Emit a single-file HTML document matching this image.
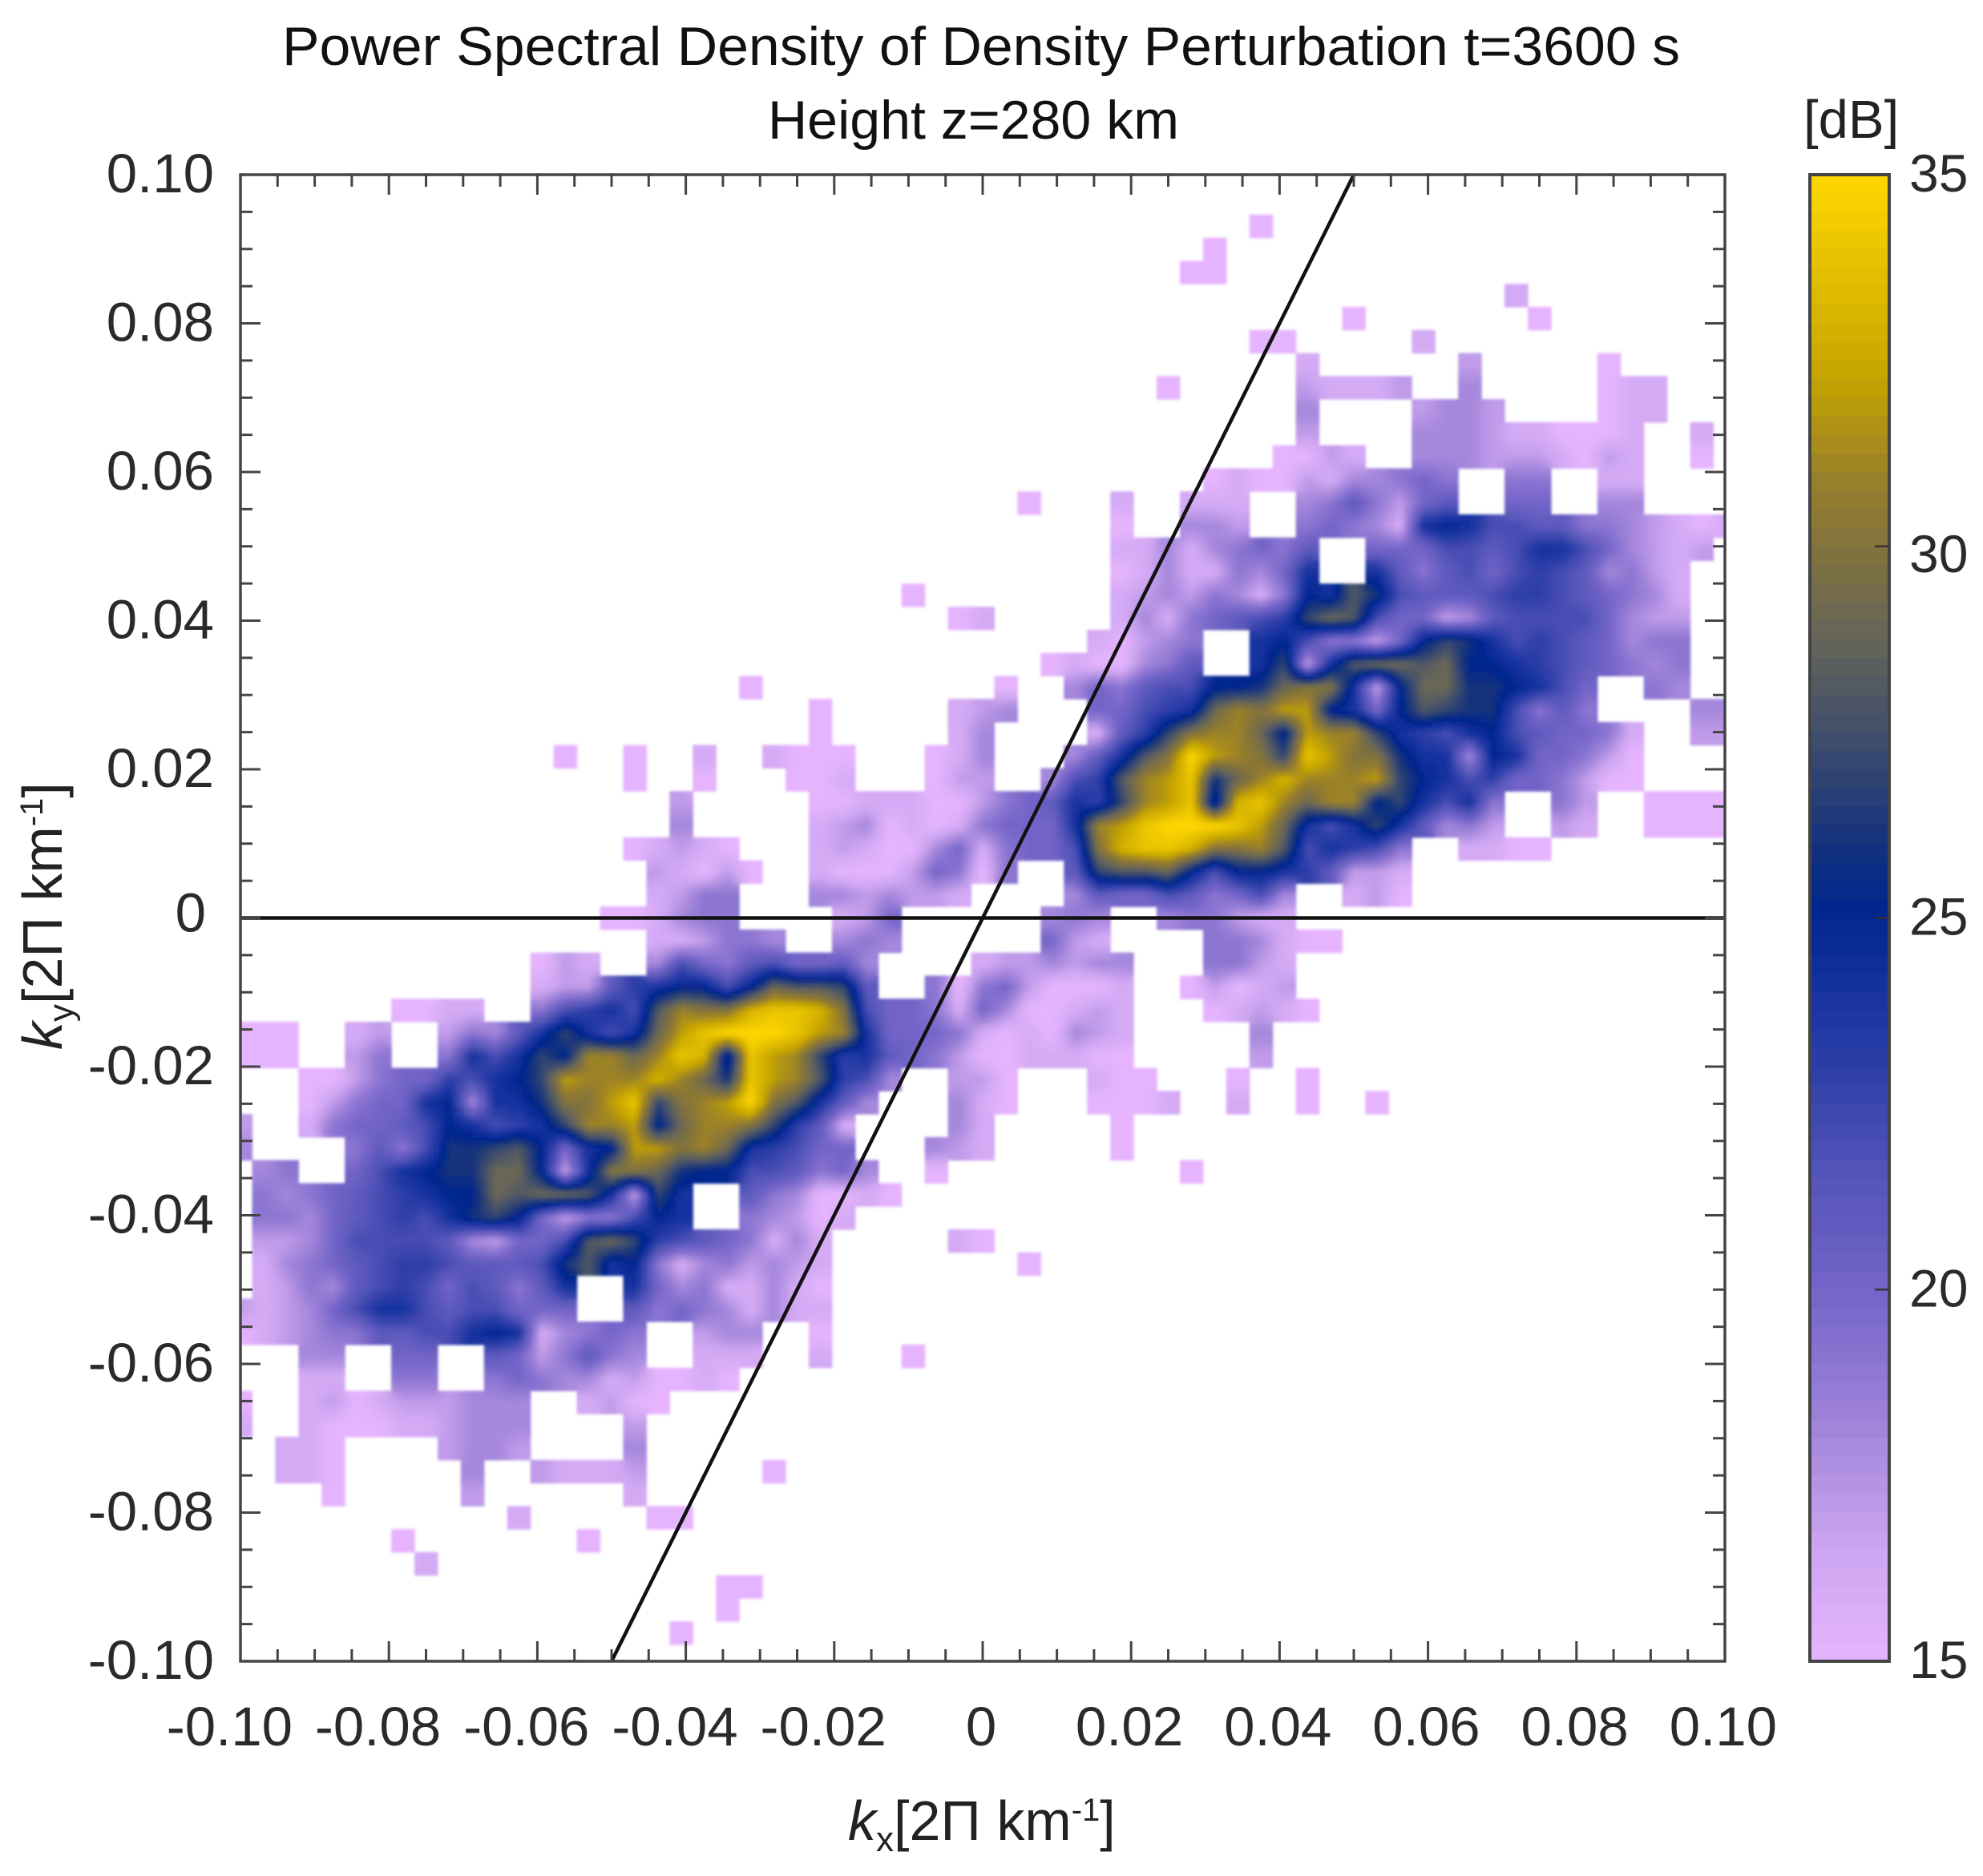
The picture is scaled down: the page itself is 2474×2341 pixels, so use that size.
<!DOCTYPE html>
<html lang="en">
<head>
<meta charset="utf-8">
<title>Power Spectral Density of Density Perturbation</title>
<style>
html,body{margin:0;padding:0;background:#fff}
svg{display:block;font-family:"Liberation Sans",sans-serif}
</style>
</head>
<body>
<svg id="chart" xmlns="http://www.w3.org/2000/svg" width="2474" height="2341" viewBox="0 0 2474 2341">
  <defs>
    <clipPath id="plot-clip"><rect x="300" y="218" width="1852" height="1855"/></clipPath>
    <filter id="soften" filterUnits="userSpaceOnUse" x="280" y="200" width="1900" height="1900">
      <feGaussianBlur stdDeviation="1.6"/>
    </filter>
  </defs>
  <rect x="0" y="0" width="2474" height="2341" fill="#fff"/>
  <text x="352" y="81" font-size="68" fill="#111" textLength="1744" lengthAdjust="spacingAndGlyphs">Power Spectral Density of Density Perturbation t=3600 s</text>
  <text x="958" y="173" font-size="68" fill="#111" textLength="513" lengthAdjust="spacingAndGlyphs">Height z=280 km</text>
  <g id="heatmap-clip" clip-path="url(#plot-clip)">
    <g id="heatmap" filter="url(#soften)"></g>
    <g id="guides"></g>
  </g>
  <g id="axes"></g>
  <g id="colorbar"></g>
  <text x="1058" y="2296" font-size="70" fill="#222"><tspan font-style="italic">k</tspan><tspan dy="14" font-size="44">x</tspan><tspan dy="-14">[2Π km</tspan><tspan dy="-24" font-size="40">-1</tspan><tspan dy="24">]</tspan></text>
  <text transform="translate(77,1310) rotate(-90)" font-size="70" fill="#222"><tspan font-style="italic">k</tspan><tspan dy="14" font-size="44">y</tspan><tspan dy="-14">[2Π km</tspan><tspan dy="-24" font-size="40">-1</tspan><tspan dy="24">]</tspan></text>
  <text x="2250" y="172" font-size="67" fill="#222">[dB]</text>
</svg>
<script>
// Axis tick values and labels
const xTickValues = [-0.10,-0.08,-0.06,-0.04,-0.02,0,0.02,0.04,0.06,0.08,0.10];
const xTickLabels = ['-0.10','-0.08','-0.06','-0.04','-0.02','0','0.02','0.04','0.06','0.08','0.10'];
const yTickValues = [0.10,0.08,0.06,0.04,0.02,0,-0.02,-0.04,-0.06,-0.08,-0.10];
const yTickLabels = ['0.10','0.08','0.06','0.04','0.02','0','-0.02','-0.04','-0.06','-0.08','-0.10'];
const colorbarTickValues = [35,30,25,20,15];
const colorbarTickLabels = ['35','30','25','20','15'];

// Guide lines (wavenumbers)
const zeroLineKx = [-0.10,0.10];
const zeroLineKy = [0,0];
const slopeLineKx = [-0.05,0.05];
const slopeLineKy = [-0.10,0.10];

// Colour scale: dB level and its colour
const colorLevels = [15,16.5,18,20,21.5,23,24,25.1,26,27.3,28.7,30,30.8,32.3,35];
const colorReds   = [230,205,165,115,85,45,22,0,20,60,100,130,150,198,255];
const colorGreens = [180,165,135,100,85,62,50,38,50,75,100,115,125,165,215];
const colorBlues  = [255,240,220,200,185,168,160,142,125,110,90,60,45,0,0];

// PSD in dB, one entry per grid row from the top (rows 1..32).
// Each segment is [first column index relative to kx=0, value, value, ...]; gaps are below 15 dB.
// The spectrum of a real field is point-symmetric, so the lower half-plane is this same table
// reflected through the spectrum centre.
const psdHalfPlaneRows = [
 [],
 [[12,15]],
 [[10,15]],
 [[9,15,15]],
 [[23,16]],
 [[16,15],[24,15]],
 [[12,15,15],[19,16]],
 [[14,16],[21,17],[27,15]],
 [[8,15],[14,17,16,16,16,17],[21,18],[27,15,16,16]],
 [[14,18],[19,17,18,18,17],[27,15,16,16]],
 [[14,17],[19,18,18,18,17,16,16,15,15,15,16],[31,16]],
 [[13,15,15,17,16],[19,18,18,18,17,17,17,16,15,17,16],[31,15]],
 [[10,15,16,15,15,17,16,18,18,19,20,19],[23,19,19],[27,16,16]],
 [[2,15],[6,16],[9,16,16,16],[14,18,19,21,19,17,20,21],[23,20,20],[27,18,18]],
 [[6,15],[9,18,18,17],[14,19,20,19,18,16,24,25,24,22,22,21,21,19,19,18,17,16,15,16]],
 [[6,16,16,18,16,18,19,20,19,21],[17,20,20,20,22,22,21,22,24,24,22,20,18,17,16,17]],
 [[6,15,16,18,16,16,19,18,20,24],[17,24,21,19,21,22,20,22,23,22,21,18,19,17,16]],
 [[-3,15],[6,16,17,18,17,19,18,16,19,25,24,28,26,22,21,21,21,22,23,23,22,21,20,19,18,16]],
 [[-1,15,16],[6,16,18,16,19,20,21,22,23,27,29,28,22,20,20,17,18,21,22,22,22,22,20,18,17,17]],
 [[5,16,15,17,18,19],[12,24,25,22,19,19,17,20,25,27,26,24,22,23,22,21,20,18,19,19]],
 [[3,15,16,15,15,18,19,21],[12,24,27,17,24,28,29,29,28,29,25,25,24,23,22,21,20,19,18,19]],
 [[-10,15],[1,15],[4,18,20,19,21,22,22,25,25,26,29,30,30,24,17,25,29,29,26,26,25,24,22,20],[29,19,18]],
 [[-7,15],[-1,16,17,18],[5,20,20,22,23,24,29,31,30,32,32,25,24,20,25,28,27,26,26,22,19,21,19],[31,18,18]],
 [[-7,15],[-1,16,18],[5,16,21,23,27,30,31,31,29,25,32,31,31,27,24,23,22,24,25,22,21,20,20,19,16],[31,17,17]],
 [[-18,15],[-15,15],[-12,16],[-9,16,15,15,15],[-2,15,16,18],[4,18,21,24,28,30,35,32,31,30,27,34,32,30,30,26,24,24,18,25,24,20,20,19,17,15]],
 [[-15,15],[-12,15],[-8,15,15,16],[-2,15,17,17],[3,18,22,23,28,31,32,34,26,29,31,33,31,31,31,32,27,25,24,22,23,20,20,19,17,15,15]],
 [[-13,17],[-7,15,15,16,16,16,15,15,17,19,20,21,24,23,27,31,32,34,24,33,34,31,29,31,31,25,27,24,22,24,19],[25,19,17],[29,15,15,15,15]],
 [[-13,18],[-7,16,17,18,15,16,15,16,19,20,20,20,24,31,32,34,35,35,35,34,32,29,24,22,24,27,24,21,18,19,17],[25,17,16],[29,15,15,15,15]],
 [[-15,15,16,17,16,15],[-7,16,17,16,15,15,18,20,16,19,20,20,22,30,33,34,34,33,30,30,31,28,22,24,23,22,19],[21,16,16,15,15]],
 [[-14,17,16,15,17,15],[-7,16,15,15,15,17,20,19,15,19],[4,21,27,28,28,29,25,22,25,25,24,23,21,17,17,16]],
 [[-14,16,17,19,19],[-7,18,18,17,18,17,17,16],[4,18,21,20,20,22,21,19,20,22,18],[16,16,17,15]],
 [[-16,15,15,16,18,19,19],[-6,16,17,20],[3,18,19,18],[8,18,19,19,17,16,16]]
];

const SVG_NS = 'http://www.w3.org/2000/svg';
const plot = {left:300,right:2152,top:218,bottom:2073};
const bar = {left:2258,right:2357,top:218,bottom:2073};
const kMin = -0.1, kMax = 0.1;
const gridStepX = 0.003125, gridStepY = 0.0031025;
const centerRow = 32;
const mirrorRowSum = 65, mirrorColSum = -1;

function xScale(k){ return plot.left + (k-kMin)/(kMax-kMin)*(plot.right-plot.left); }
function yScale(k){ return plot.bottom - (k-kMin)/(kMax-kMin)*(plot.bottom-plot.top); }
function dbScale(v){ return bar.top + (35-v)/20*(bar.bottom-bar.top); }

function colorFor(v){
  const n = colorLevels.length;
  if (v <= colorLevels[0]) return 'rgb('+colorReds[0]+','+colorGreens[0]+','+colorBlues[0]+')';
  for (let i=1;i<n;i++){
    if (v <= colorLevels[i]){
      const t = (v-colorLevels[i-1])/(colorLevels[i]-colorLevels[i-1]);
      const r = Math.round(colorReds[i-1]+t*(colorReds[i]-colorReds[i-1]));
      const g = Math.round(colorGreens[i-1]+t*(colorGreens[i]-colorGreens[i-1]));
      const b = Math.round(colorBlues[i-1]+t*(colorBlues[i]-colorBlues[i-1]));
      return 'rgb('+r+','+g+','+b+')';
    }
  }
  return 'rgb('+colorReds[n-1]+','+colorGreens[n-1]+','+colorBlues[n-1]+')';
}

function make(tag, parent, attrs){
  const el = document.createElementNS(SVG_NS, tag);
  for (const key in attrs) el.setAttribute(key, attrs[key]);
  parent.appendChild(el);
  return el;
}

// Build the value grid from the half-plane table
const grid = new Map();
function gridKey(j,k){ return j*1000+(k+500); }
psdHalfPlaneRows.forEach(function(segments, index){
  const j = index+1;
  segments.forEach(function(seg){
    for (let n=1;n<seg.length;n++){
      const k = seg[0]+n-1;
      grid.set(gridKey(j,k), seg[n]);
      grid.set(gridKey(mirrorRowSum-j, mirrorColSum-k), seg[n]);
    }
  });
});
function gridValue(j,k,fallback){
  const v = grid.get(gridKey(j,k));
  return v === undefined ? fallback : v;
}

// Heatmap: every occupied cell is shaded by bilinear interpolation to its neighbours
const heatmap = document.getElementById('heatmap');
const subdivisions = 6;
grid.forEach(function(value, key){
  const j = Math.floor(key/1000);
  const k = key-j*1000-500;
  const kx = k*gridStepX;
  const ky = (centerRow-j)*gridStepY;
  const cx = xScale(kx), cy = yScale(ky);
  const cw = xScale(gridStepX)-xScale(0);
  const ch = yScale(0)-yScale(gridStepY);
  if (cx+cw/2 < plot.left || cx-cw/2 > plot.right || cy+ch/2 < plot.top || cy-ch/2 > plot.bottom) return;
  const cell = make('g', heatmap, {});
  
  
  const sw = cw/subdivisions, sh = ch/subdivisions;
  for (let a=0;a<subdivisions;a++){
    for (let b=0;b<subdivisions;b++){
      const u = (b+0.5)/subdivisions-0.5;
      const v = (a+0.5)/subdivisions-0.5;
      const dk = u<0?-1:1, dj = v<0?-1:1;
      const au = Math.abs(u), av = Math.abs(v);
      const f10 = gridValue(j,k+dk,value);
      const f01 = gridValue(j+dj,k,value);
      const f11 = gridValue(j+dj,k+dk,(f10+f01)/2);
      const val = value*(1-au)*(1-av)+f10*au*(1-av)+f01*(1-au)*av+f11*au*av;
      make('rect', cell, {x:(cx-cw/2+b*sw).toFixed(2),y:(cy-ch/2+a*sh).toFixed(2),width:(sw+0.6).toFixed(2),height:(sh+0.6).toFixed(2),fill:colorFor(val)});
    }
  }
});

// Guide lines
const guides = document.getElementById('guides');
const zeroLine = make('line', guides, {x1:xScale(zeroLineKx[0]),y1:yScale(zeroLineKy[0]),x2:xScale(zeroLineKx[1]),y2:yScale(zeroLineKy[1]),stroke:'#111','stroke-width':4.5});


const slopeLine = make('line', guides, {x1:xScale(slopeLineKx[0]),y1:yScale(slopeLineKy[0]),x2:xScale(slopeLineKx[1]),y2:yScale(slopeLineKy[1]),stroke:'#111','stroke-width':4.5});



// Axes
const axes = document.getElementById('axes');
const frame = make('rect', axes, {x:plot.left,y:plot.top,width:plot.right-plot.left,height:plot.bottom-plot.top,fill:'none',stroke:'#444','stroke-width':3.5});



const tickCount = 40;
for (let i=0;i<=tickCount;i++){
  const value = kMin+i*(kMax-kMin)/tickCount;
  const len = i%4===0 ? 25 : 15;
  const px = xScale(value), py = yScale(value);
  const bottomTick = make('line', axes, {x1:px,x2:px,y1:plot.bottom,y2:plot.bottom-len,stroke:'#444','stroke-width':3});
  
  
  const topTick = make('line', axes, {x1:px,x2:px,y1:plot.top,y2:plot.top+len,stroke:'#444','stroke-width':3});
  
  
  const leftTick = make('line', axes, {x1:plot.left,x2:plot.left+len,y1:py,y2:py,stroke:'#444','stroke-width':3});
  
  
  const rightTick = make('line', axes, {x1:plot.right,x2:plot.right-len,y1:py,y2:py,stroke:'#444','stroke-width':3});
  
  
}

xTickValues.forEach(function(value, i){
  const isZero = value === 0;
  const label = make('text', axes, {x:xScale(value)+(isZero?-2:65),y:2178,'font-size':69,fill:'#2a2a2a','text-anchor':isZero?'middle':'end'});
  label.textContent = xTickLabels[i];
  
  
});
yTickValues.forEach(function(value, i){
  const isZero = value === 0;
  const label = make('text', axes, {x:isZero?257:267,y:yScale(value)+(isZero?17:22),'font-size':69,fill:'#2a2a2a','text-anchor':'end'});
  label.textContent = yTickLabels[i];
  
  
});

// Colour bar
const colorbar = document.getElementById('colorbar');
const bandCount = 80;
for (let i=0;i<bandCount;i++){
  const high = 35-i*20/bandCount;
  const low = 35-(i+1)*20/bandCount;
  const band = make('rect', colorbar, {x:bar.left,y:dbScale(high).toFixed(2),width:bar.right-bar.left,height:(dbScale(low)-dbScale(high)+0.7).toFixed(2),fill:colorFor((high+low)/2)});
  
  
}
const barFrame = make('rect', colorbar, {x:bar.left,y:bar.top,width:bar.right-bar.left,height:bar.bottom-bar.top,fill:'none',stroke:'#444','stroke-width':4});


colorbarTickValues.forEach(function(value, i){
  const py = dbScale(value);
  if (value !== 35 && value !== 15){
    const tick = make('line', colorbar, {x1:bar.right,x2:bar.right-18,y1:py,y2:py,stroke:'#333','stroke-width':2.5});
    
    
  }
  const label = make('text', colorbar, {x:2382,y:py+(value===30?32:21),'font-size':66,fill:'#2a2a2a'});
  label.textContent = colorbarTickLabels[i];
  
  
});
</script>
</body>
</html>
